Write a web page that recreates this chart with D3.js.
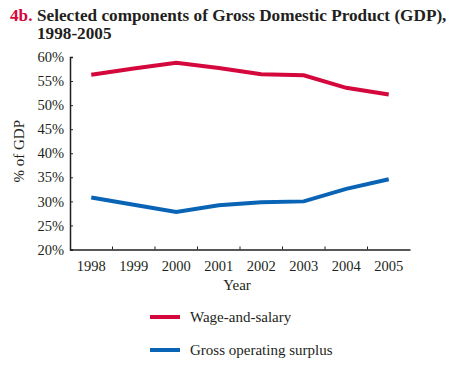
<!DOCTYPE html>
<html>
<head>
<meta charset="utf-8">
<script src="https://cdn.jsdelivr.net/npm/d3@7"></script>
<style>
  body { margin: 0; background: #fff; }
  text { font-family: "Liberation Serif", "Times New Roman", serif; fill: #231f20; }
</style>
</head>
<body>
<div id="chart"></div>
<script>
// data
var years = ["1998", "1999", "2000", "2001", "2002", "2003", "2004", "2005"];
var wageSalary = [56.3, 57.6, 58.8, 57.7, 56.4, 56.2, 53.6, 52.2];
var grossSurplus = [30.8, 29.3, 27.8, 29.2, 29.8, 30.0, 32.6, 34.6];
var yTicks = [20, 25, 30, 35, 40, 45, 50, 55, 60];
var seriesNames = ["Wage-and-salary", "Gross operating surplus"];
var seriesColors = ["#d4083c", "#0a64b6"];

var W = 450, H = 367;
var margin = {top: 57, right: 40, bottom: 117.5, left: 70},
  width = W - margin.left - margin.right,
  height = H - margin.top - margin.bottom;

var svg = d3.select("#chart")
  .append("svg")
    .attr("width", W)
    .attr("height", H);

// title
var title = svg.append("text")
  .attr("x", 10)
  .attr("y", 21)
  .style("font-size", "17.2px")
  .attr("font-weight", "bold");
title.append("tspan").style("fill", "#d4083c").text("4b.");
title.append("tspan").attr("x", 37).text("Selected components of Gross Domestic Product (GDP),");
svg.append("text")
  .attr("x", 37)
  .attr("y", 39)
  .style("font-size", "17.2px")
  .attr("font-weight", "bold")
  .text("1998-2005");

var g = svg.append("g")
  .attr("transform", "translate(" + margin.left + "," + margin.top + ")");

var x = d3.scaleBand()
  .domain(years)
  .range([0, width]);

var y = d3.scaleLinear()
  .domain([20, 60])
  .range([height, 0]);

// axes
var xAxisG = g.append("g")
  .attr("transform", "translate(0," + height + ")")
  .call(d3.axisBottom(x).tickSize(0).tickPadding(11));
xAxisG.attr("font-size", null).attr("font-family", null);
xAxisG.selectAll(".tick text").style("font-size", "14.5px");
// in-between tick marks
xAxisG.selectAll(".sep")
  .data(years.slice(1))
  .join("line")
    .attr("x1", d => x(d))
    .attr("x2", d => x(d))
    .attr("y1", 0)
    .attr("y2", -3)
    .attr("stroke", "#231f20");

var yAxisG = g.append("g")
  .call(d3.axisLeft(y).tickValues(yTicks).tickSize(-3).tickPadding(6).tickFormat(d => d + "%"));
yAxisG.attr("font-size", null).attr("font-family", null);
yAxisG.selectAll(".tick text").style("font-size", "14.5px");

g.selectAll(".domain").attr("stroke", "#231f20").attr("stroke-width", 1.5);
g.selectAll(".tick line").attr("stroke", "#231f20");

// axis titles
svg.append("text")
  .attr("x", margin.left + width / 2 - 3)
  .attr("y", 290)
  .attr("text-anchor", "middle")
  .style("font-size", "15px")
  .text("Year");

svg.append("text")
  .attr("transform", "translate(24," + (margin.top + height / 2 - 2) + ") rotate(-90)")
  .attr("text-anchor", "middle")
  .style("font-size", "15px")
  .text("% of GDP");

// lines
var line = d3.line()
  .x((d, i) => x(years[i]) + x.bandwidth() / 2)
  .y(d => y(d));

[wageSalary, grossSurplus].forEach(function(s, i) {
  g.append("path")
    .datum(s)
    .attr("fill", "none")
    .attr("stroke", seriesColors[i])
    .attr("stroke-width", 4)
    .attr("d", line);
});

// legend
var legend = svg.append("g")
  .selectAll("g")
  .data(seriesNames)
  .join("g")
    .attr("transform", (d, i) => "translate(150," + (317 + i 
    * 33) + ")");
legend.append("line")
  .attr("x1", 0).attr("x2", 30)
  .attr("stroke", (d, i) => seriesColors[i])
  .attr("stroke-width", 4);
legend.append("text")
  .attr("x", 40)
  .attr("y", 5)
  .style("font-size", "15px")
  .text(d => d);
</script>
</body>
</html>
